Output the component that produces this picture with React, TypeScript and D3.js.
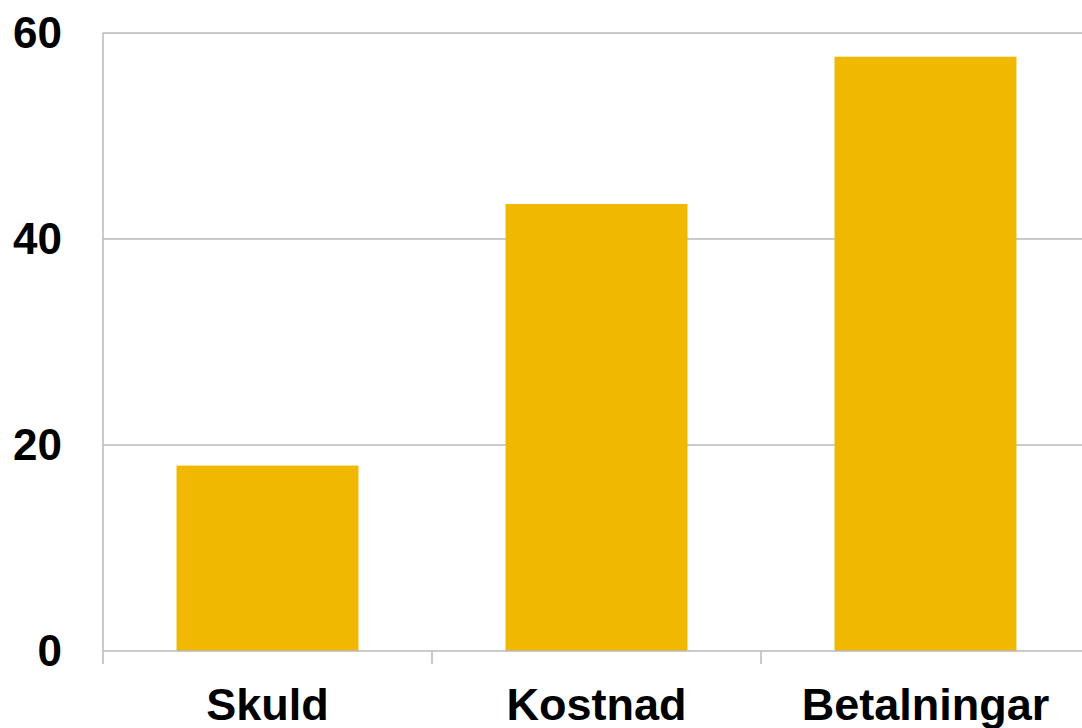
import React from "react";
import * as d3 from "d3";

const categories = ["Skuld", "Kostnad", "Betalningar"];
const values = [18, 43.4, 57.7];
const yTicks = [0, 20, 40, 60];

const W = 1082;
const H = 728;
const left = 103;
const right = 1090;
const top = 33;
const bottom = 651;

export default function App() {
  const x = d3.scaleBand<string>().domain(categories).range([left, right]).paddingInner(0).paddingOuter(0);
  const y = d3.scaleLinear().domain([0, 60]).range([bottom, top]);
  const bw = x.bandwidth();
  const barW = bw * 0.553;
  const font = "'Liberation Sans', Arial, sans-serif";
  const grid = "#b8b8b8";
  return (
    <svg width={W} height={H} style={{ position: "absolute", left: 0, top: 0, background: "#fff" }}>
      {yTicks.filter((t) => t > 0).map((t) => (
        <line key={t} x1={left} x2={W} y1={y(t)} y2={y(t)} stroke={grid} strokeWidth={1.5} />
      ))}
      {categories.map((c, i) => (
        <rect
          key={c}
          x={(x(c) as number) + (bw - barW) / 2}
          y={y(values[i])}
          width={barW}
          height={y(0) - y(values[i])}
          fill="#F0B800"
        />
      ))}
      <line x1={left} x2={left} y1={top} y2={bottom + 13} stroke={grid} strokeWidth={1.5} />
      <line x1={left} x2={W} y1={bottom} y2={bottom} stroke={grid} strokeWidth={1.5} />
      {categories.slice(1).map((c) => (
        <line key={c} x1={x(c) as number} x2={x(c) as number} y1={bottom} y2={bottom + 13} stroke={grid} strokeWidth={1.5} />
      ))}
      {yTicks.map((t) => (
        <text key={t} x={62} y={y(t) + 15} textAnchor="end" fontFamily={font} fontWeight="bold" fontSize={44} fill="#000">
          {t}
        </text>
      ))}
      {categories.map((c) => (
        <text key={c} x={(x(c) as number) + bw / 2} y={720} textAnchor="middle" fontFamily={font} fontWeight="bold" fontSize={45} fill="#000">
          {c}
        </text>
      ))}
    </svg>
  );
}
